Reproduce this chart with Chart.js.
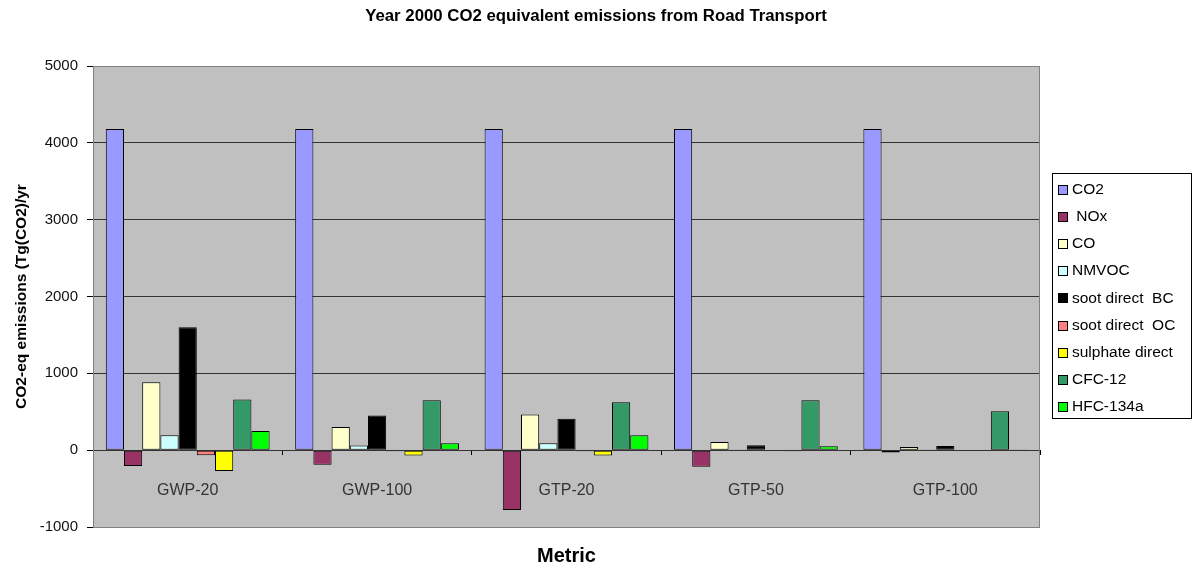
<!DOCTYPE html>
<html>
<head>
<meta charset="utf-8">
<script src="https://cdn.jsdelivr.net/npm/chart.js@4/dist/chart.umd.min.js"></script>
<style>
  body { margin: 0; background: #fff; }
  #wrap { width: 1192px; height: 569px; }
</style>
</head>
<body>
<div id="wrap"><canvas id="emissionsChart" width="1192" height="569"></canvas></div>
<script>
// Kategorien (Metriken) und Werte je Komponente, Tg(CO2)/yr
const metrics = ['GWP-20', 'GWP-100', 'GTP-20', 'GTP-50', 'GTP-100'];
const seriesNames = ['CO2', ' NOx', 'CO', 'NMVOC', 'soot direct  BC', 'soot direct  OC', 'sulphate direct', 'CFC-12', 'HFC-134a'];
const co2 = [4180, 4180, 4180, 4180, 4180];
const nox = [-205, -190, -780, -215, -30];
const co = [885, 300, 465, 105, 40];
const nmvoc = [195, 60, 90, 10, 10];
const sootBC = [1600, 450, 410, 65, 55];
const sootOC = [-65, -15, -15, -5, -3];
const sulphate = [-270, -70, -70, -15, -10];
const cfc12 = [660, 650, 625, 650, 505];
const hfc134a = [250, 90, 195, 50, 10];
const yTicks = [-1000, 0, 1000, 2000, 3000, 4000, 5000];
const chartTitle = 'Year 2000 CO2 equivalent emissions from Road Transport';

const seriesValues = [co2, nox, co, nmvoc, sootBC, sootOC, sulphate, cfc12, hfc134a];
const seriesColors = ['#9999FF', '#993366', '#FFFFCC', '#CCFFFF', '#000000', '#FF8080', '#FFFF00', '#339966', '#00FF00'];

Chart.defaults.font.family = "'Liberation Sans', Arial, sans-serif";
Chart.defaults.color = '#000';

// grauer Plot-Hintergrund und Rahmen wie in Excel
const plotArea = {
    id: 'plotArea',
    beforeDraw(chart) {
        const { ctx, chartArea: a } = chart;
        ctx.save();
        ctx.fillStyle = '#c0c0c0';
        ctx.fillRect(a.left, a.top, a.right - a.left, a.bottom - a.top);
        ctx.restore();
    },
    afterDraw(chart) {
        const { ctx, chartArea: a } = chart;
        ctx.save();
        ctx.strokeStyle = '#808080';
        ctx.lineWidth = 1;
        ctx.strokeRect(Math.round(a.left) + 0.5, Math.round(a.top) + 0.5,
            Math.round(a.right - a.left) - 1, Math.round(a.bottom - a.top));
        ctx.restore();
    }
};

// Titel über die ganze Bildbreite zentriert
const pageTitle = {
    id: 'pageTitle',
    afterDraw(chart) {
        const ctx = chart.ctx;
        ctx.save();
        ctx.font = "bold 16.8px 'Liberation Sans', Arial, sans-serif";
        ctx.fillStyle = '#000';
        ctx.textAlign = 'center';
        ctx.textBaseline = 'middle';
        ctx.fillText(chartTitle, 596, 16);
        ctx.restore();
    }
};

// Legende mit Rahmen rechts
const boxedLegend = {
    id: 'boxedLegend',
    afterDraw(chart) {
        const ctx = chart.ctx;
        ctx.save();
        ctx.strokeStyle = '#000';
        ctx.lineWidth = 1;
        ctx.strokeRect(1052.5, 173.5, 139, 245);
        ctx.font = "15.5px 'Liberation Sans', Arial, sans-serif";
        ctx.textBaseline = 'middle';
        chart.data.datasets.forEach((ds, i) => {
            const y = 189.5 + i * 27.2;
            ctx.fillStyle = ds.backgroundColor;
            ctx.fillRect(1058.5, Math.round(y - 5) + 0.5, 9, 9);
            ctx.strokeRect(1058.5, Math.round(y - 5) + 0.5, 9, 9);
            ctx.fillStyle = '#000';
            ctx.fillText(ds.label, 1072, y);
        });
        ctx.restore();
    }
};

const ctx = document.getElementById('emissionsChart').getContext('2d');
new Chart(ctx, {
    type: 'bar',
    data: {
        labels: metrics,
        datasets: seriesNames.map((name, i) => ({
            label: name,
            data: seriesValues[i],
            backgroundColor: seriesColors[i],
            borderColor: '#000',
            borderWidth: 1,
            borderSkipped: false
        }))
    },
    options: {
        responsive: false,
        animation: false,
        categoryPercentage: 0.865,
        barPercentage: 1,
        layout: { padding: { left: 0, right: 152, top: 66, bottom: 0 } },
        plugins: {
            legend: { display: false },
            tooltip: { enabled: false },
            title: { display: false },
            subtitle: {
                display: true,
                position: 'bottom',
                fullSize: false,
                text: 'Metric',
                font: { size: 20, weight: 'bold' },
                color: '#000',
                padding: { top: 17, bottom: 1 }
            }
        },
        scales: {
            x: {
                position: { y: 0 },
                grid: {
                    drawOnChartArea: false,
                    drawTicks: true,
                    tickLength: 5,
                    tickColor: '#000',
                    offset: true
                },
                border: { display: false },
                ticks: {
                    font: { size: 16 },
                    color: '#333',
                    padding: 26
                }
            },
            y: {
                min: -1000,
                max: 5000,
                afterBuildTicks(scale) {
                    scale.ticks = yTicks.map(v => ({ value: v }));
                },
                afterFit(scale) { scale.width = 93; },
                grid: {
                    color: c => (c.tick && (c.tick.value === 5000 || c.tick.value === -1000)) ? '#808080' : '#333',
                    tickColor: '#000',
                    tickLength: 6
                },
                border: { color: '#808080' },
                ticks: {
                    font: { size: 15 },
                    color: '#111',
                    padding: 9,
                    callback: v => String(v)
                },
                title: {
                    display: true,
                    text: 'CO2-eq emissions (Tg(CO2)/yr',
                    font: { size: 15.5, weight: 'bold' },
                    color: '#000',
                    padding: { top: 12, bottom: 0 }
                }
            }
        }
    },
    plugins: [plotArea, pageTitle, boxedLegend]
});
</script>
</body>
</html>
